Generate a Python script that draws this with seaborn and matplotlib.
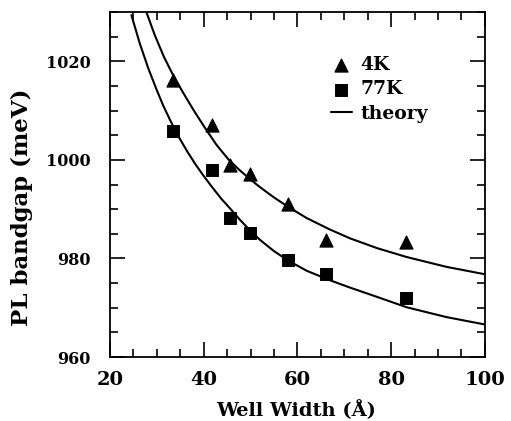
import numpy as np
import pandas as pd
import matplotlib
matplotlib.use("Agg")
import matplotlib.pyplot as plt
import seaborn as sns
from matplotlib.ticker import MultipleLocator

# --- DATA ---
well_width = [33.5, 41.7, 45.6, 49.9, 58.0, 66.2, 83.1]
pl_4k = [1016.3, 1007.2, 998.9, 997.1, 991.0, 983.7, 983.3]
pl_77k = [1005.9, 998.0, 988.2, 985.1, 979.7, 976.9, 971.9]

theory_4k_x = [27.8, 29.6, 31.5, 33.5, 35.6, 38.0, 40.3, 42.8, 45.4, 47.6, 49.9, 52.0,
               55.0, 58.0, 62.0, 66.9, 71.2, 77.0, 83.3, 91.8, 100.0]
theory_4k_y = [1030.0, 1025.3, 1021.0, 1017.2, 1013.7, 1009.9, 1006.5, 1003.0, 1000.0, 998.0, 996.1, 994.5,
               992.4, 990.5, 988.2, 985.9, 984.1, 982.1, 980.3, 978.3, 976.8]

theory_77k_x = [24.6, 26.4, 28.2, 30.0, 31.4, 32.8, 34.5, 36.4, 38.2, 39.9, 41.8, 43.8, 45.6,
                47.7, 49.9, 52.0, 55.0, 58.0, 62.0, 66.9, 71.2, 77.0, 83.3, 91.8, 100.0]
theory_77k_y = [1029.4, 1023.6, 1018.6, 1014.2, 1011.0, 1008.2, 1005.0, 1001.9, 999.2, 996.9, 994.5, 992.1, 990.2,
                987.9, 985.7, 983.8, 981.5, 979.6, 977.5, 975.6, 974.1, 972.2, 970.1, 968.1, 966.6]

sns.set_style("ticks")
plt.rcParams['font.family'] = ['DejaVu Serif']
plt.rcParams['font.weight'] = 'bold'
for k in ['text.color', 'axes.labelcolor', 'xtick.color', 'ytick.color', 'axes.edgecolor']:
    plt.rcParams[k] = 'black'

fig = plt.figure(figsize=(5.11, 4.21), dpi=100)
ax = fig.add_axes([0.215, 0.152, 0.734, 0.819])

sns.lineplot(x=theory_4k_x, y=theory_4k_y, color='black', lw=1.5, ax=ax, label='theory')
sns.lineplot(x=theory_77k_x, y=theory_77k_y, color='black', lw=1.5, ax=ax)
sns.scatterplot(x=well_width, y=pl_4k, marker='^', s=90, color='black', edgecolor='black', ax=ax, label='4K', zorder=3)
sns.scatterplot(x=well_width, y=pl_77k, marker='s', s=72, color='black', edgecolor='black', ax=ax, label='77K', zorder=3)

ax.set_xlim(20, 100)
ax.set_ylim(960, 1030)
ax.xaxis.set_major_locator(MultipleLocator(20))
ax.xaxis.set_minor_locator(MultipleLocator(5))
ax.yaxis.set_major_locator(MultipleLocator(20))
ax.yaxis.set_minor_locator(MultipleLocator(5))
ax.tick_params(which='both', direction='in', top=True, right=True, width=1.2)
ax.tick_params(which='major', length=10.5)
ax.tick_params(which='minor', length=5.5)
ax.tick_params(axis='x', which='major', labelsize=14, pad=10)
ax.tick_params(axis='y', which='major', labelsize=11.5, pad=14)
for s in ax.spines.values():
    s.set_linewidth(1.3)

ax.set_xlabel('Well Width (Å)', fontsize=14, fontweight='bold')
ax.set_ylabel('PL bandgap (meV)', fontsize=16.5, fontweight='bold')
ax.xaxis.set_label_coords(0.497, -0.125)
ax.yaxis.set_label_coords(-0.205, 0.435)

handles, labels = ax.get_legend_handles_labels()
order = [labels.index('4K'), labels.index('77K'), labels.index('theory')]
ax.legend([handles[i] for i in order], [labels[i] for i in order],
          loc='upper left', bbox_to_anchor=(0.57, 0.895), frameon=False,
          fontsize=13.5, handlelength=1.1, handletextpad=0.45, labelspacing=0.35,
          borderaxespad=0)

fig.savefig('out.png', dpi=100)
